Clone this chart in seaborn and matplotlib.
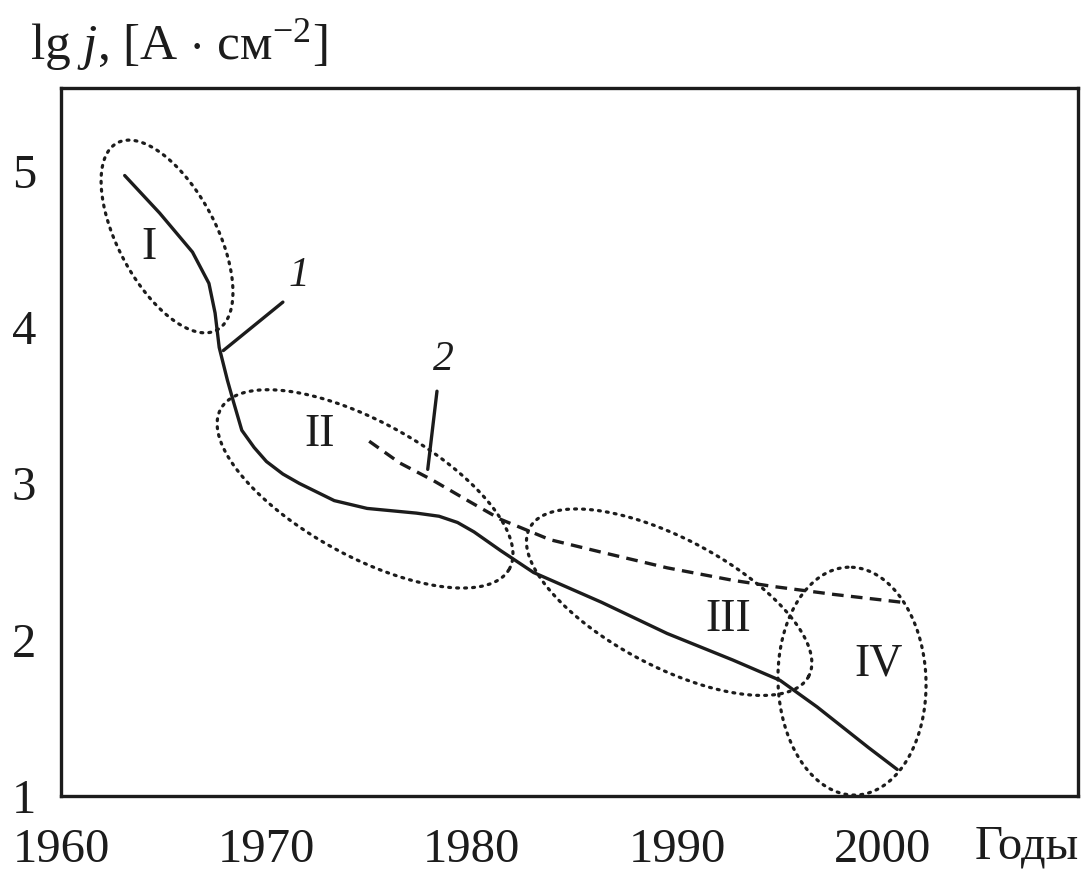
import numpy as np
import pandas as pd
import matplotlib
matplotlib.use("Agg")
import matplotlib.pyplot as plt
import seaborn as sns

# ---------------- data ----------------
years_1 = [1963.1, 1964.8, 1966.4, 1967.2, 1967.5, 1967.7, 1968.1, 1968.4, 1968.8,
           1969.4, 1970.0, 1970.8, 1971.6, 1973.3, 1974.9, 1977.3, 1978.4, 1979.3,
           1980.1, 1981.4, 1983.0, 1986.3, 1989.5, 1992.7, 1995.0, 1996.8, 1999.3,
           2000.7]
lgj_1 = [4.97, 4.73, 4.48, 4.28, 4.09, 3.87, 3.66, 3.52, 3.34,
         3.23, 3.14, 3.06, 3.00, 2.89, 2.84, 2.81, 2.79, 2.75,
         2.69, 2.57, 2.43, 2.24, 2.04, 1.87, 1.74, 1.57, 1.31,
         1.17]

years_2 = [1975.0, 1976.5, 1978.1, 1979.8, 1981.4, 1983.8, 1986.3, 1989.5,
           1992.7, 1994.7, 1997.6, 2000.9]
lgj_2 = [3.27, 3.13, 3.02, 2.89, 2.77, 2.64, 2.56, 2.46,
         2.38, 2.34, 2.29, 2.24]

x_ticks = [1960, 1970, 1980, 1990, 2000]
y_ticks = [1, 2, 3, 4, 5]

region_names = ["I", "II", "III", "IV"]
region_year = [1964.3, 1972.6, 1992.5, 1999.8]
region_lgj = [4.51, 3.31, 2.13, 1.84]

curve_names = ["1", "2"]

# ---------------- style ----------------
sns.set_theme(style="white")
plt.rcParams['font.family'] = ['Liberation Serif', 'DejaVu Serif']
plt.rcParams['mathtext.fontset'] = 'custom'
plt.rcParams['mathtext.rm'] = 'Liberation Serif'
plt.rcParams['mathtext.it'] = 'Liberation Serif:italic'
plt.rcParams['mathtext.bf'] = 'Liberation Serif:bold'

INK = '#1c1c1c'
FS = 35

fig = plt.figure(figsize=(10.84, 8.71), dpi=100)
ax = fig.add_axes([61 / 1084, 1 - 796 / 871, (1078 - 61) / 1084, (796 - 88) / 871])
ax.set_xlim(1960, 2009.5)
ax.set_ylim(1, 5.53)

df1 = pd.DataFrame({"year": years_1, "lgj": lgj_1})
df2 = pd.DataFrame({"year": years_2, "lgj": lgj_2})
sns.lineplot(data=df1, x="year", y="lgj", ax=ax, color=INK, lw=2.4, sort=False,
             solid_joinstyle='round', solid_capstyle='round')
sns.lineplot(data=df2, x="year", y="lgj", ax=ax, color=INK, lw=2.4, sort=False,
             linestyle=(0, (3.5, 2.2)))

# dotted region ellipses: centre (year, lgj), semi-axes in px, angle in deg
ellipses = [
    (1965.16, 4.58, 106, 49, -62),
    (1974.8, 2.965, 165, 67, -29),
    (1989.6, 2.24, 158, 64, -28),
    (1998.5, 1.735, 114, 74, 92),
]
t = np.linspace(0, 2 * np.pi, 400)
for (cx, cy, a, b, ang) in ellipses:
    c = ax.transData.transform((cx, cy))
    th = np.deg2rad(ang)
    ex = a * np.cos(t)
    ey = b * np.sin(t)
    px = c[0] + ex * np.cos(th) - ey * np.sin(th)
    py = c[1] + ex * np.sin(th) + ey * np.cos(th)
    d = ax.transData.inverted().transform(np.column_stack([px, py]))
    ax.plot(d[:, 0], d[:, 1], color=INK, lw=2.3, linestyle=(0, (0.6, 1.9)),
            dash_capstyle='round', clip_on=False)

for name, xx, yy in zip(region_names, region_year, region_lgj):
    ax.text(xx, yy, name, fontsize=33, color=INK, ha='center', va='center')

# curve labels with leader lines
ax.plot([1967.9, 1970.8], [3.85, 4.16], color=INK, lw=2.4)
ax.text(1971.6, 4.33, curve_names[0], fontsize=30, style='italic', color=INK,
        ha='center', va='center')
ax.plot([1977.85, 1978.3], [3.09, 3.59], color=INK, lw=2.4)
ax.text(1978.6, 3.79, curve_names[1], fontsize=30, style='italic', color=INK,
        ha='center', va='center')

# axes styling
for s in ax.spines.values():
    s.set_color(INK)
    s.set_linewidth(2.4)
ax.set_xticks(x_ticks)
ax.set_yticks(y_ticks)
ax.set_xticklabels([str(v) for v in x_ticks])
ax.set_yticklabels([str(v) for v in y_ticks])
ax.tick_params(axis='both', direction='in', length=13, width=2.2, color=INK,
               labelsize=FS, labelcolor=INK)
ax.tick_params(axis='x', pad=23)
ax.tick_params(axis='y', pad=18)
ax.set_xlabel("")
ax.set_ylabel("")

fig.text(30 / 1084, 1 - 45 / 871, r"lg $j$, [A $\cdot$ см$^{-2}$]", fontsize=37,
         color=INK, ha='left', va='center')
fig.text(1079 / 1084, 1 - 846 / 871, "Годы", fontsize=FS, color=INK,
         ha='right', va='center')

fig.savefig("out.png", dpi=100, facecolor='white')
